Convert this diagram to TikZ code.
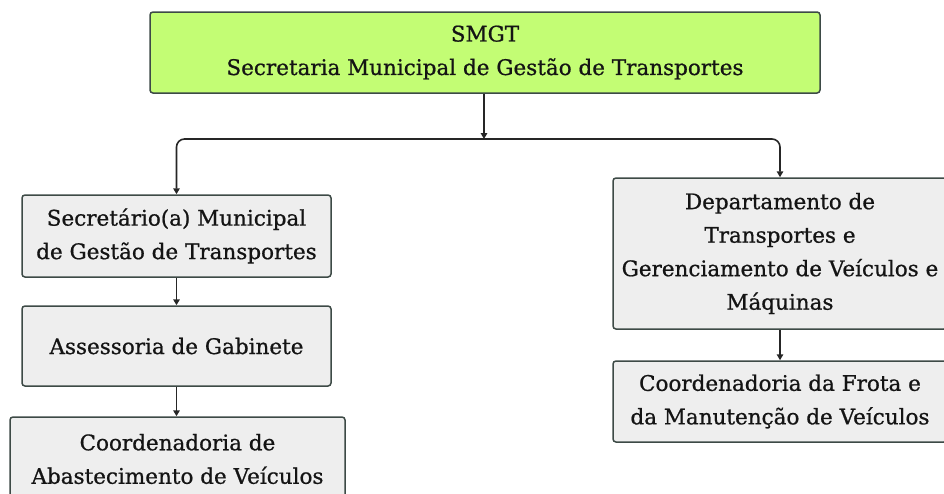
\documentclass[tikz,border=0pt]{standalone}
\usepackage{fontspec}
\setmainfont{DejaVu Serif}
\newfontfamily\boxfont[FakeBold=0.8]{DejaVu Serif}
\usetikzlibrary{arrows.meta}
\definecolor{edge}{HTML}{3D4A46}
\definecolor{boxgray}{HTML}{EEEEEE}
\definecolor{limefill}{HTML}{C3FD74}
\definecolor{txt}{HTML}{141414}
\begin{document}
\begin{tikzpicture}[x=1pt,y=-1pt,
  box/.style={draw=edge, fill=boxgray, rounded corners=3pt, line width=1.5pt, align=center,
    inner sep=0pt, font=\boxfont\fontsize{21.5}{33.5}\selectfont, text=txt},
  conn/.style={draw=black!85, line width=1.6pt, -{Triangle[length=6pt,width=6.5pt]}}]
\useasboundingbox (0,0) rectangle (944,493);
\clip (0,0) rectangle (944,493);
\node[box, fill=limefill, minimum width=670pt, minimum height=81pt] (top) at (485,52.5)
  {SMGT\\Secretaria Municipal de Gestão de Transportes};
\node[box, minimum width=309pt, minimum height=82pt] (b1) at (176.5,236)
  {Secretário(a) Municipal\\de Gestão de Transportes};
\node[box, minimum width=309pt, minimum height=80pt] (b2) at (176.5,346)
  {Assessoria de Gabinete};
\node[box, minimum width=335pt, minimum height=84pt] (b3) at (177.5,459)
  {Coordenadoria de\\Abastecimento de Veículos};
\node[box, minimum width=334pt, minimum height=151pt] (b4) at (780,253.5)
  {Departamento de\\Transportes e\\Gerenciamento de Veículos e\\Máquinas};
\node[box, minimum width=334pt, minimum height=81pt] (b5) at (780,401.5)
  {Coordenadoria da Frota e\\da Manutenção de Veículos};
\coordinate (split) at (484,139);
\draw[conn] (top.south -| split) -- (split);
\draw[conn, rounded corners=8pt] (split) -| (b1.north);
\draw[conn, rounded corners=8pt] (split) -| (b4.north);
\draw[conn] (b1.south) -- (b2.north);
\draw[conn] (b2.south) -- (b2.south |- b3.north);
\draw[conn] (b4.south) -- (b5.north);
\end{tikzpicture}
\end{document}
